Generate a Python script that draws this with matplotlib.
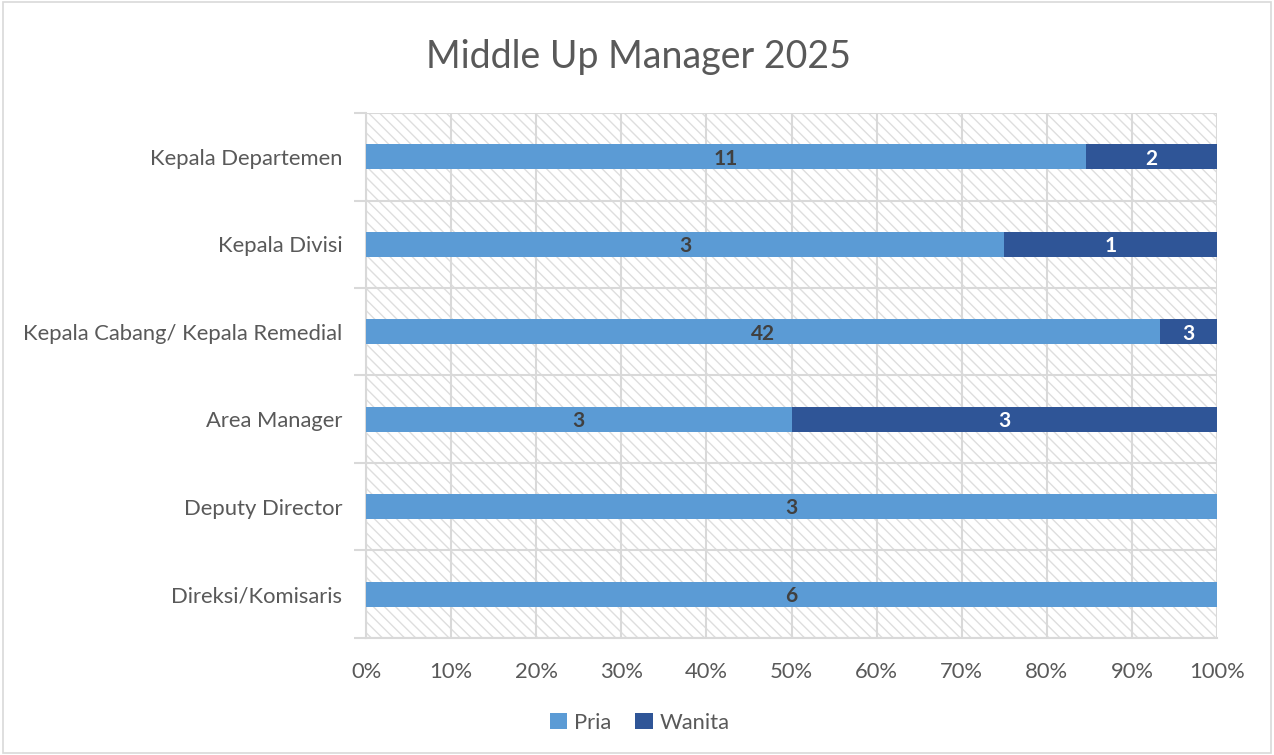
import numpy as np
import matplotlib
matplotlib.use("Agg")
import matplotlib.pyplot as plt
from matplotlib.patches import Rectangle

plt.rcParams['font.family'] = ['Lato', 'DejaVu Sans']
plt.rcParams['hatch.linewidth'] = 1.0

categories = ["Kepala Departemen", "Kepala Divisi", "Kepala Cabang/ Kepala Remedial",
              "Area Manager", "Deputy Director", "Direksi/Komisaris"]
pria = np.array([11, 3, 42, 3, 3, 6])
wanita = np.array([2, 1, 3, 3, 0, 0])
xticks = np.arange(0, 101, 10)

total = pria + wanita
pria_pct = pria / total * 100
wanita_pct = wanita / total * 100

c_pria = "#5B9BD5"
c_wanita = "#2F5597"
grey = "#595959"
grid = "#d9d9d9"

fig = plt.figure(figsize=(12.74, 7.55), dpi=100)
ax = fig.add_axes([0.2873, 0.155, 0.668, 0.6953])

n = len(categories)
y = np.arange(n)[::-1]

# hatched plot background
ax.add_patch(Rectangle((0, 0), 1, 1, transform=ax.transAxes, facecolor="white",
                       edgecolor="#dedede", hatch="\\\\\\", linewidth=0, zorder=0))

ax.barh(y, pria_pct, height=0.29, color=c_pria, zorder=3, label="Pria")
ax.barh(y, wanita_pct, left=pria_pct, height=0.29, color=c_wanita, zorder=3, label="Wanita")

# value labels, nudged a bit down to sit centred like the original
for yi, p, w, pp, wp in zip(y, pria, wanita, pria_pct, wanita_pct):
    if p > 0:
        ax.text(pp / 2, yi - 0.02, str(p), ha="center", va="center", fontsize=15,
                fontweight="bold", color="#404040", zorder=4)
    if w > 0:
        ax.text(pp + wp / 2, yi - 0.02, str(w), ha="center", va="center", fontsize=15,
                fontweight="bold", color="white", zorder=4)

ax.set_xlim(0, 100)
ax.set_ylim(-0.5, n - 0.5)
ax.set_xticks(xticks)
ax.set_xticklabels([f"{v}%" for v in xticks])
ax.set_yticks(y)
ax.set_yticklabels(categories)
ax.set_yticks(np.arange(-0.5, n, 1), minor=True)

ax.tick_params(axis="y", which="major", length=0, pad=17, labelsize=15.8, labelcolor=grey)
ax.tick_params(axis="y", which="minor", length=9, color=grid, width=1.5)
ax.tick_params(axis="x", length=0, pad=17, labelsize=15.8, labelcolor=grey)

ax.grid(axis="x", color=grid, linewidth=1.5, zorder=1)
ax.grid(axis="y", which="minor", color=grid, linewidth=1.5, zorder=1)
ax.set_axisbelow(True)
for s in ["top", "right"]:
    ax.spines[s].set_visible(False)
ax.spines["left"].set_color(grid)
ax.spines["left"].set_linewidth(1.5)
ax.spines["bottom"].set_color(grid)
ax.spines["bottom"].set_linewidth(1.5)

fig.text(0.501, 0.925, "Middle Up Manager 2025", ha="center", va="center",
         fontsize=27, color=grey)

leg = fig.legend(loc="center", bbox_to_anchor=(0.502, 0.043), ncol=2, frameon=False,
                 fontsize=15.8, handlelength=0.8, handleheight=0.8, columnspacing=1.1,
                 handletextpad=0.3)
for t in leg.get_texts():
    t.set_color(grey)

fig.add_artist(Rectangle((0.002, 0.002), 0.996, 0.996, transform=fig.transFigure,
                         fill=False, edgecolor=grid, linewidth=1.2))

fig.savefig("out.png", dpi=100)
